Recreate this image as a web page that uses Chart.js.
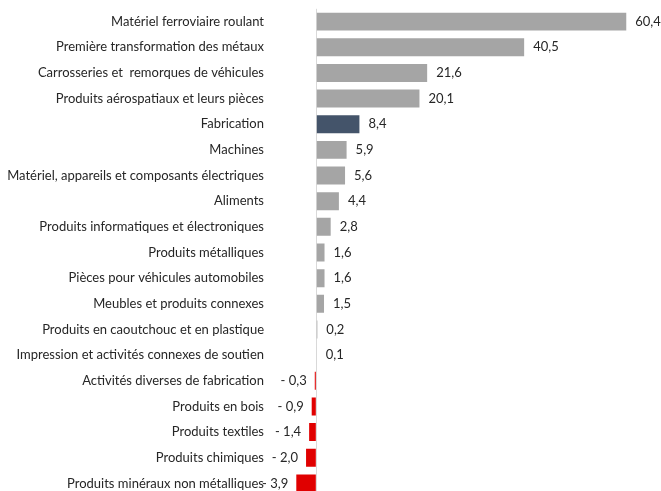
<!DOCTYPE html>
<html>
<head>
<meta charset="utf-8">
<script src="https://cdn.jsdelivr.net/npm/chart.js@4"></script>
<style>
  html, body { margin: 0; padding: 0; background: #fff; overflow: hidden; }
  #wrap { position: relative; width: 661px; height: 505px; }
</style>
</head>
<body>
<div id="wrap"><canvas id="graphIndustries"></canvas></div>
<script>
var categories = [
  'Matériel ferroviaire roulant',
  'Première transformation des métaux',
  'Carrosseries et  remorques de véhicules',
  'Produits aérospatiaux et leurs pièces',
  'Fabrication',
  'Machines',
  'Matériel, appareils et composants électriques',
  'Aliments',
  'Produits informatiques et électroniques',
  'Produits métalliques',
  'Pièces pour véhicules automobiles',
  'Meubles et produits connexes',
  'Produits en caoutchouc et en plastique',
  'Impression et activités connexes de soutien',
  'Activités diverses de fabrication',
  'Produits en bois',
  'Produits textiles',
  'Produits chimiques',
  'Produits minéraux non métalliques'
];
var variations = [60.4, 40.5, 21.6, 20.1, 8.4, 5.9, 5.6, 4.4, 2.8, 1.6, 1.6, 1.5, 0.2, 0.1, -0.3, -0.9, -1.4, -2.0, -3.9];
var totalCategory = 'Fabrication';

var couleurs = variations.map(function (v, i) {
  if (categories[i] === totalCategory) return '#44546A';
  return v < 0 ? '#E00000' : '#A5A5A5';
});

function formatFr(v) {
  var s = Math.abs(v).toFixed(1).replace('.', ',');
  return v < 0 ? '- ' + s : s;
}

// value labels next to the end of each bar
var etiquettes = {
  id: 'etiquettes',
  afterDatasetsDraw: function (chart) {
    var c = chart.ctx;
    var meta = chart.getDatasetMeta(0);
    c.save();
    c.font = '13px Lato';
    c.fillStyle = '#262626';
    c.textBaseline = 'middle';
    meta.data.forEach(function (bar, i) {
      var v = variations[i];
      if (v < 0) {
        c.textAlign = 'right';
        c.fillText(formatFr(v), bar.x - 8, bar.y);
      } else {
        c.textAlign = 'left';
        c.fillText(formatFr(v), bar.x + 9, bar.y);
      }
    });
    c.restore();
  }
};

var ctx = document.getElementById('graphIndustries');
new Chart(ctx, {
  type: 'bar',
  data: {
    labels: categories,
    datasets: [{
      data: variations,
      backgroundColor: couleurs,
      barPercentage: 0.7,
      categoryPercentage: 1
    }]
  },
  options: {
    indexAxis: 'y',
    responsive: true,
    maintainAspectRatio: false,
    animation: false,
    layout: { padding: { top: 8, right: 6, bottom: 1, left: 0 } },
    plugins: {
      legend: { display: false },
      tooltip: { enabled: false }
    },
    scales: {
      x: {
        min: -10,
        max: 66,
        ticks: { display: false, stepSize: 10 },
        border: { display: false },
        grid: {
          drawTicks: false,
          lineWidth: 1,
          color: function (c) { return c.tick && c.tick.value === 0 ? '#D9D9D9' : 'rgba(0,0,0,0)'; }
        }
      },
      y: {
        border: { display: false },
        grid: { display: false, drawTicks: false },
        ticks: {
          autoSkip: false,
          padding: 1,
          color: '#262626',
          font: { family: 'Lato', size: 13 }
        },
        afterFit: function (scale) { scale.width = 265; }
      }
    }
  },
  plugins: [etiquettes]
});
</script>
</body>
</html>
